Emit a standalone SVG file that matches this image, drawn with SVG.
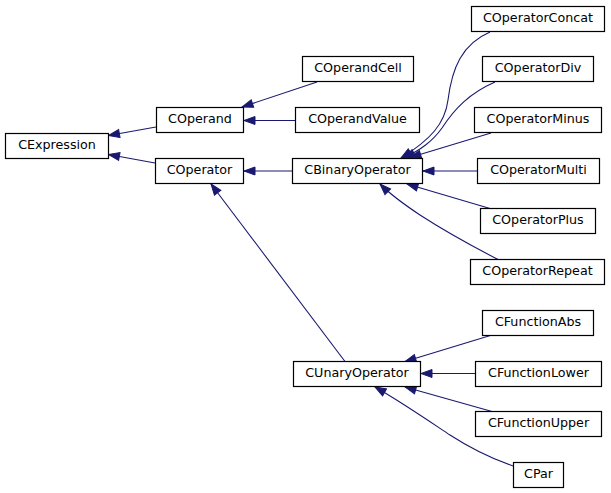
<svg xmlns="http://www.w3.org/2000/svg" width="611" height="493" viewBox="0 0 611 493">
<style>
.node rect{fill:#ffffff;stroke:#000000;stroke-width:1.2}
.node text{font-family:"DejaVu Sans",sans-serif;font-size:12.7px;fill:#000000;text-anchor:middle}
.edge{fill:none;stroke:#191970;stroke-width:1.1;marker-end:url(#arr)}
</style>
<defs>
<marker id="arr" markerUnits="userSpaceOnUse" markerWidth="12" markerHeight="8" viewBox="0 0 12 8" refX="11" refY="4" orient="auto" overflow="visible">
<path d="M0,0 L11,4 L0,8 Z" fill="#191970" stroke="#191970" stroke-width="1"/>
</marker>
</defs>
<rect width="611" height="493" fill="#ffffff"/>
<g id="connectors">
<path class="edge" d="M156,127 L108.5,135.5"/>
<path class="edge" d="M155,163 L108.5,154.5"/>
<path class="edge" d="M317,82 L242,107"/>
<path class="edge" d="M295,120.5 L244,120.5"/>
<path class="edge" d="M292,171 L244,171"/>
<path class="edge" d="M345,361.5 L211,184"/>
<path class="edge" d="M490,32 C462,44 452,68 448,100 C445,124 430,140 401,158"/>
<path class="edge" d="M495,82 C470,93 455,108 442,128 C432,142 420,150 404,158"/>
<path class="edge" d="M491,133 L410,157.5"/>
<path class="edge" d="M477,171 L423,171"/>
<path class="edge" d="M490,208.5 L407,184"/>
<path class="edge" d="M498,259.5 C470,245 440,228 420,215 C405,205 392,196 380,184"/>
<path class="edge" d="M492,335 L405,361.5"/>
<path class="edge" d="M475,373.5 L421,373.5"/>
<path class="edge" d="M492,411.5 L405,387"/>
<path class="edge" d="M513,466 C490,458 470,448 450,435 C420,415 398,400 375,387"/>
</g>
<g id="CExpression" class="node"><rect x="5.5" y="133.5" width="103" height="25"/><text x="57" y="149">CExpression</text></g>
<g id="COperand" class="node"><rect x="156.5" y="107.5" width="87" height="25"/><text x="200" y="123">COperand</text></g>
<g id="COperator" class="node"><rect x="155.5" y="158.5" width="88" height="25"/><text x="199.5" y="174">COperator</text></g>
<g id="COperandCell" class="node"><rect x="302.5" y="56.5" width="111" height="25"/><text x="358" y="72">COperandCell</text></g>
<g id="COperandValue" class="node"><rect x="295.5" y="107.5" width="124" height="25"/><text x="357.5" y="123">COperandValue</text></g>
<g id="CBinaryOperator" class="node"><rect x="292.5" y="158.5" width="130" height="25"/><text x="357.5" y="174">CBinaryOperator</text></g>
<g id="CUnaryOperator" class="node"><rect x="293.5" y="361.5" width="127" height="25"/><text x="357" y="377">CUnaryOperator</text></g>
<g id="COperatorConcat" class="node"><rect x="471.5" y="6.5" width="133" height="25"/><text x="538" y="22">COperatorConcat</text></g>
<g id="COperatorDiv" class="node"><rect x="482.5" y="56.5" width="111" height="25"/><text x="538" y="72">COperatorDiv</text></g>
<g id="COperatorMinus" class="node"><rect x="474.5" y="107.5" width="127" height="25"/><text x="538" y="123">COperatorMinus</text></g>
<g id="COperatorMulti" class="node"><rect x="477.5" y="158.5" width="122" height="25"/><text x="538.5" y="174">COperatorMulti</text></g>
<g id="COperatorPlus" class="node"><rect x="480.5" y="208.5" width="115" height="25"/><text x="538" y="224">COperatorPlus</text></g>
<g id="COperatorRepeat" class="node"><rect x="470.5" y="259.5" width="134" height="25"/><text x="537.5" y="275">COperatorRepeat</text></g>
<g id="CFunctionAbs" class="node"><rect x="482.5" y="310.5" width="111" height="25"/><text x="538" y="326">CFunctionAbs</text></g>
<g id="CFunctionLower" class="node"><rect x="475.5" y="361.5" width="126" height="25"/><text x="538.5" y="377">CFunctionLower</text></g>
<g id="CFunctionUpper" class="node"><rect x="475.5" y="411.5" width="126" height="25"/><text x="538.5" y="427">CFunctionUpper</text></g>
<g id="CPar" class="node"><rect x="513.5" y="462.5" width="50" height="25"/><text x="538.5" y="478">CPar</text></g>
</svg>
